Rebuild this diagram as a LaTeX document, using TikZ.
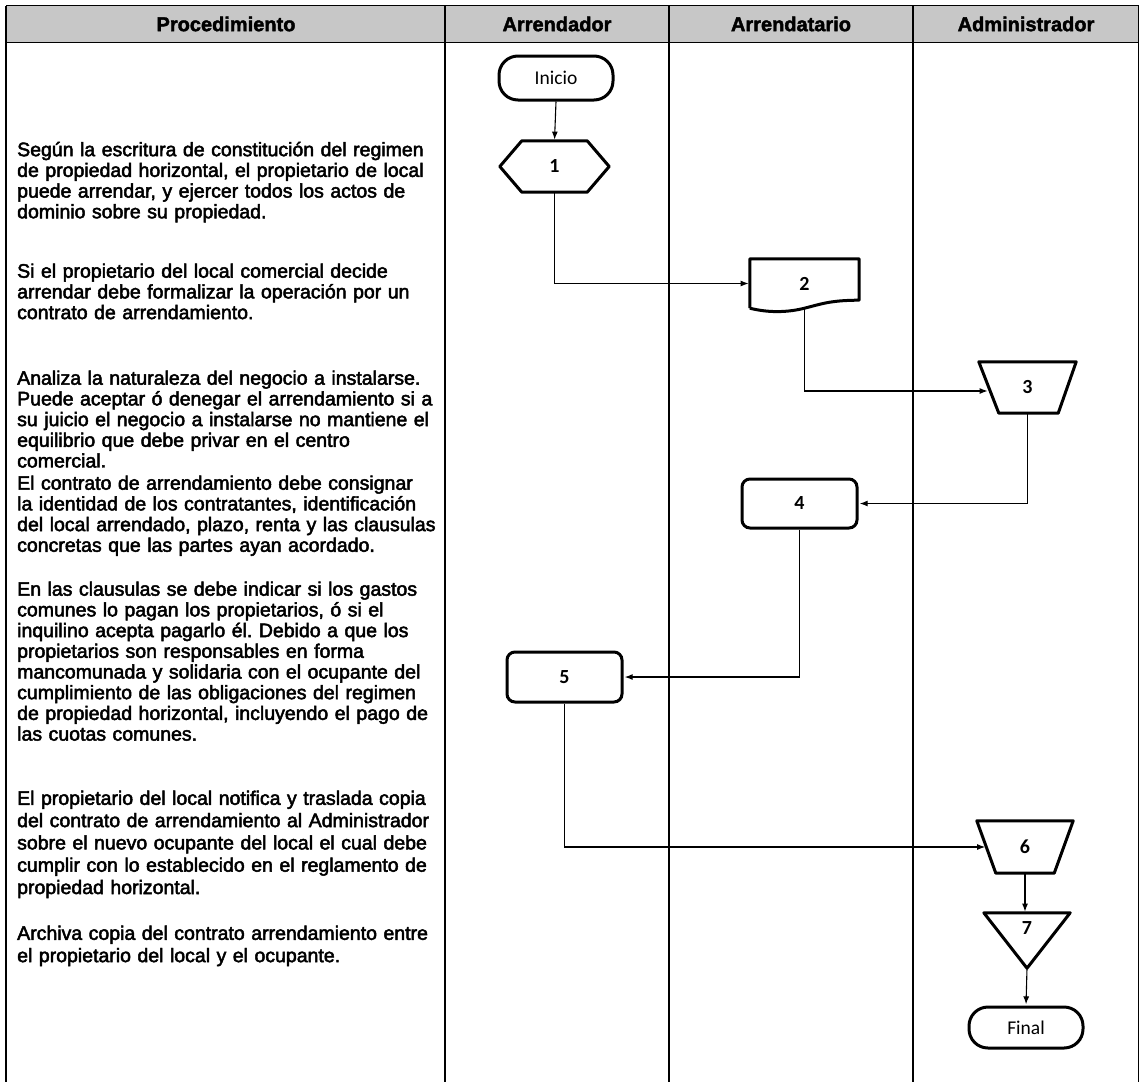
\documentclass[tikz,border=0pt]{standalone}
\usepackage{fontspec}
\setmainfont{Liberation Sans}
\newfontfamily\bodyfont[FakeBold=2.5]{Liberation Sans}
\newfontfamily\headfont[FakeBold=2]{Liberation Sans Bold}
\newfontfamily\calibri{Carlito}
\usetikzlibrary{arrows.meta,calc}
\frenchspacing

\begin{document}
\begin{tikzpicture}[x=1pt,y=-1pt,
  lane/.style={line width=1.6pt},
  shapeline/.style={line width=3pt, line join=round},
  conn/.style={line width=1.1pt, shorten >=1.2pt, -{Latex[length=8pt,width=6pt]}},
  hdr/.style={font=\headfont\fontsize{20}{24}\selectfont, inner sep=0},
  slot/.style={inner sep=0, font=\calibri\bfseries\fontsize{20}{22}\selectfont},
  termbox/.style={draw, line width=3pt, rounded corners=19pt, inner sep=0,
    font=\calibri\fontsize{19.5}{22}\selectfont},
  roundbox/.style={draw, line width=3pt, rounded corners=8pt, inner sep=0,
    font=\calibri\bfseries\fontsize{20}{22}\selectfont},
  body/.style={anchor=north west, inner sep=0, text width=450pt, align=left,
    font=\bodyfont\fontsize{19.5}{20.7}\selectfont},
  bodywide/.style={body, font=\bodyfont\fontsize{19.5}{22.3}\selectfont}
]
\useasboundingbox (0,0) rectangle (1140,1082);

% header band
\fill[black!22] (6,5.5) rectangle (1138.5,42.5);
\draw[line width=1.8pt] (6,5.5) -- (1138.5,5.5);
\draw[line width=1.8pt] (6,42.5) -- (1138.5,42.5);

% swimlane borders
\foreach \x in {6,445,669,913,1138.5}
  \draw[lane] (\x,5.5) -- (\x,1082);

\node[hdr] (hproc) at (226,24) {Procedimiento};
\node[hdr] (harr)  at (557,24) {Arrendador};
\node[hdr] (hten)  at (791,24) {Arrendatario};
\node[hdr] (hadm)  at (1026,24) {Administrador};

% procedure descriptions
\node[body] (p1) at (17,141.5) {\strut Según la escritura de constitución del regimen\\
de propiedad horizontal, el propietario de local\\
puede arrendar, y ejercer todos los actos de\\
dominio sobre su propiedad.};
\node[body] (p2) at (17,263) {\strut Si el propietario del local comercial decide\\
arrendar debe formalizar la operación por un\\
contrato de arrendamiento.};
\node[body] (p3) at (17,370) {\strut Analiza la naturaleza del negocio a instalarse.\\
Puede aceptar ó denegar el arrendamiento si a\\
su juicio el negocio a instalarse no mantiene el\\
equilibrio que debe privar en el centro\\
comercial.};
\node[body] (p4) at (17,475) {\strut El contrato de arrendamiento debe consignar\\
la identidad de los contratantes, identificación\\
del local arrendado, plazo, renta y las clausulas\\
concretas que las partes ayan acordado.};
\node[body] (p5) at (17,581) {\strut En las clausulas se debe indicar si los gastos\\
comunes lo pagan los propietarios, ó si el\\
inquilino acepta pagarlo él. Debido a que los\\
propietarios son responsables en forma\\
mancomunada y solidaria con el ocupante del\\
cumplimiento de las obligaciones del regimen\\
de propiedad horizontal, incluyendo el pago de\\
las cuotas comunes.};
\node[bodywide] (p6) at (17,789) {\strut El propietario del local notifica y traslada copia\\
del contrato de arrendamiento al Administrador\\
sobre el nuevo ocupante del local el cual debe\\
cumplir con lo establecido en el reglamento de\\
propiedad horizontal.};
\node[bodywide] (p7) at (17,924) {\strut Archiva copia del contrato arrendamiento entre\\
el propietario del local y el ocupante.};

% flow symbols
\node[termbox, minimum width=114pt, minimum height=44pt] (start) at (556,78) {Inicio};

\node[slot, minimum width=109pt, minimum height=51pt] (n1) at (554.5,166.5) {1};
\draw[shapeline] (n1.west) -- ($(n1.north west)+(22,0)$) -- ($(n1.north east)+(-22,0)$)
  -- (n1.east) -- ($(n1.south east)+(-22,0)$) -- ($(n1.south west)+(22,0)$) -- cycle;

\node[slot, minimum width=109pt, minimum height=49pt] (n2) at (804.5,283.5) {2};
\draw[shapeline] (n2.south west) -- (n2.north west) -- (n2.north east)
  -- ($(n2.south east)+(0,-8)$)
  .. controls ($(n2.south east)+(-29,-8)$) and ($(n2.south)+(16,-4)$) .. (n2.south)
  .. controls ($(n2.south)+(-16,4)$) and ($(n2.south west)+(20,5)$) .. (n2.south west);

\node[slot, minimum width=97pt, minimum height=51pt] (n3) at (1027.5,387.5) {3};
\draw[shapeline] (n3.north west) -- (n3.north east) -- ($(n3.south east)+(-18,0)$)
  -- ($(n3.south west)+(20,0)$) -- cycle;
\coordinate (n3in) at ($(n3.west)+(10,3.5)$);

\node[roundbox, minimum width=115pt, minimum height=49pt] (n4) at (799.5,503.5) {4};
\node[roundbox, minimum width=115pt, minimum height=50pt] (n5) at (564.5,677) {5};

\node[slot, minimum width=96pt, minimum height=52pt] (n6) at (1025,847) {6};
\draw[shapeline] (n6.north west) -- (n6.north east) -- ($(n6.south east)+(-19,0)$)
  -- ($(n6.south west)+(19,0)$) -- cycle;
\coordinate (n6in) at ($(n6.west)+(9.5,0)$);

\node[inner sep=0, minimum width=86pt, minimum height=55pt] (n7) at (1027,940.5) {};
\draw[shapeline] (n7.north west) -- (n7.north east) -- (n7.south) -- cycle;
\node[slot] (n7lbl) at ($(n7.north)+(0,15)$) {7};

\node[termbox, minimum width=114pt, minimum height=41pt] (stop) at (1026,1027.5) {Final};

% connectors
\draw[conn] (start.south) -- (n1.north);
\draw[conn] (n1.south) |- (n2.west);
\draw[conn] (n2.south) |- (n3in);
\draw[conn] (n3.south) |- (n4.east);
\draw[conn] (n4.south) |- (n5.east);
\draw[conn] (n5.south) |- (n6in);
\draw[conn] (n6.south) -- (n6.south |- n7.north);
\draw[conn] (n7.south) -- (stop.north);
\end{tikzpicture}
\end{document}
